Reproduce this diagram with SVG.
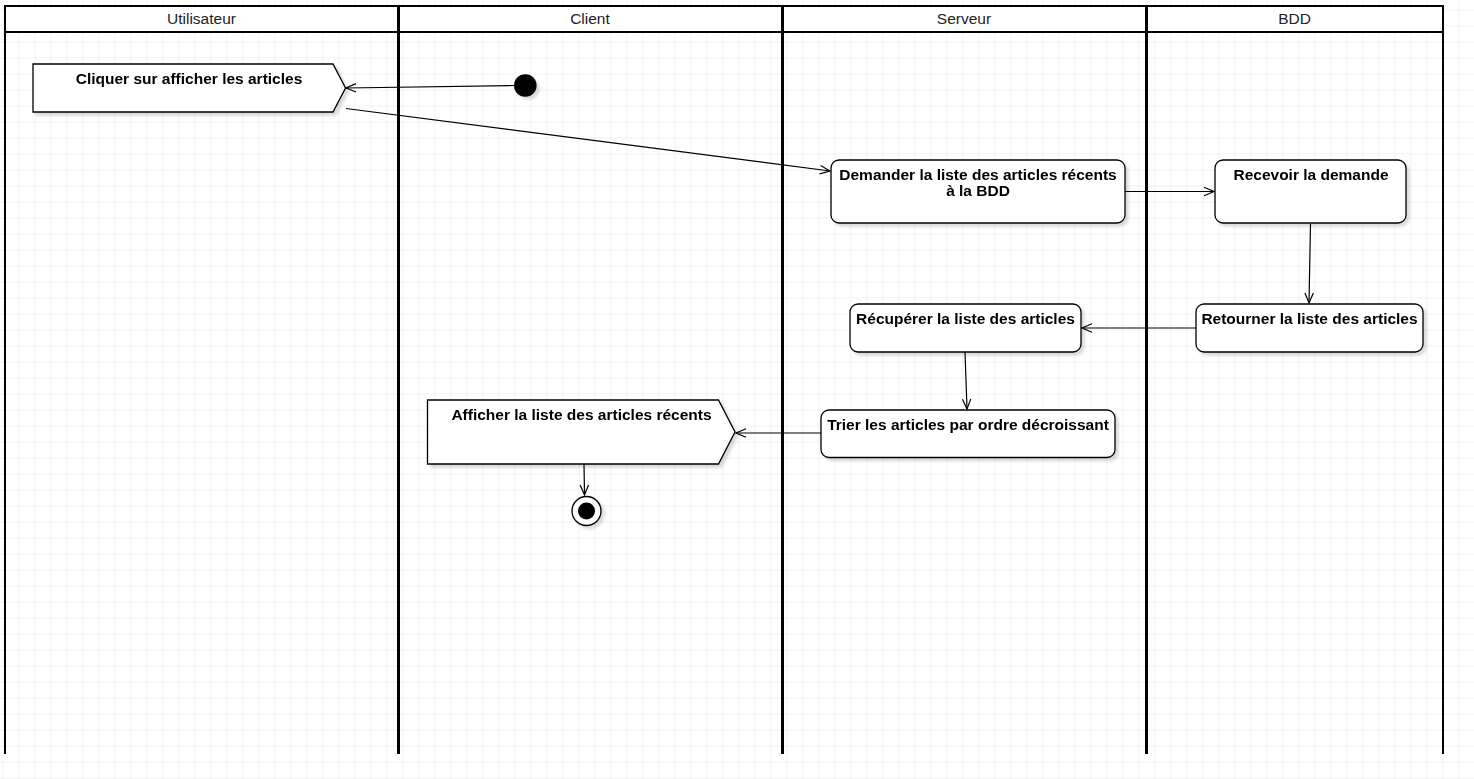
<svg xmlns="http://www.w3.org/2000/svg" width="1474" height="779" viewBox="0 0 1474 779">
  <style>
    .lane { fill: none; stroke: #000; }
    .head { fill: #fff; stroke: none; }
    .htxt { font-family: "Liberation Sans", Arial, sans-serif; font-size: 15.5px; fill: #222; text-anchor: middle; }
    .box { fill: #fff; stroke: #000; stroke-width: 1.3; }
    .lbl { font-family: "Liberation Sans", Arial, sans-serif; font-size: 15.5px; font-weight: bold; fill: #000; text-anchor: middle; }
    .edge { fill: none; stroke: #000; stroke-width: 1.2; marker-end: url(#arr); }
  </style>
  <defs>
    <pattern id="grid" width="16" height="16" patternUnits="userSpaceOnUse" patternTransform="translate(2.5 9.5)">
      <path d="M0,0 H16 M0,0 V16" fill="none" stroke="#e6e6e6" stroke-width="1"/>
    </pattern>
    <marker id="arr" markerWidth="12" markerHeight="12" refX="10" refY="5" orient="auto" markerUnits="userSpaceOnUse" overflow="visible">
      <path d="M0,0.8 L10,5 L0,9.2" fill="none" stroke="#000" stroke-width="1.2"/>
    </marker>
    <filter id="sh" x="-10%" y="-20%" width="130%" height="160%">
      <feGaussianBlur in="SourceAlpha" stdDeviation="1.5"/>
      <feOffset dx="3" dy="3"/>
      <feComponentTransfer><feFuncA type="linear" slope="0.15"/></feComponentTransfer>
      <feMerge><feMergeNode/><feMergeNode in="SourceGraphic"/></feMerge>
    </filter>
  </defs>

  <!-- background and grid -->
  <rect x="0" y="0" width="1474" height="779" fill="#fff"/>
  <rect x="0" y="0" width="1474" height="779" fill="url(#grid)"/>

  <!-- swimlane pool -->
  <g id="pool">
    <rect class="head" x="5" y="6" width="1438" height="26"/>
    <path class="lane" stroke-width="2" d="M5,754 V6 H1443 V754"/>
    <path class="lane" stroke-width="2" d="M5,32 H1443"/>
    <path class="lane" stroke-width="3" d="M398.5,6 V754 M782.5,6 V754 M1146.5,6 V754"/>
    <text class="htxt" x="201.5" y="24">Utilisateur</text>
    <text class="htxt" x="590" y="24">Client</text>
    <text class="htxt" x="964" y="24">Serveur</text>
    <text class="htxt" x="1294.5" y="24">BDD</text>
  </g>

  <!-- connectors -->
  <g id="edges">
    <path class="edge" d="M514,85.5 L346,88"/>
    <path class="edge" d="M346,108.5 L830,171"/>
    <path class="edge" d="M1125,191.5 L1214,191.5"/>
    <path class="edge" d="M1310.5,224 L1309,303"/>
    <path class="edge" d="M1196,328 L1082,328"/>
    <path class="edge" d="M965,352 L967,409"/>
    <path class="edge" d="M821,433 L736,433"/>
    <path class="edge" d="M584,464 L584.5,495"/>
  </g>

  <!-- nodes -->
  <g id="start" filter="url(#sh)">
    <circle cx="525.3" cy="85.5" r="11.3" fill="#000"/>
  </g>

  <g id="cliquer" filter="url(#sh)">
    <path class="box" d="M33,64 H333 L345.5,88 L333,112 H33 Z"/>
    <text class="lbl" x="189" y="84">Cliquer sur afficher les articles</text>
  </g>

  <g id="demander" filter="url(#sh)">
    <rect class="box" x="831" y="160" width="294" height="63" rx="8" ry="8"/>
    <text class="lbl" x="978" y="179.5">Demander la liste des articles récents</text>
    <text class="lbl" x="978" y="195.5">à la BDD</text>
  </g>

  <g id="recevoir" filter="url(#sh)">
    <rect class="box" x="1215" y="160" width="191" height="63" rx="8" ry="8"/>
    <text class="lbl" x="1311" y="179.5">Recevoir la demande</text>
  </g>

  <g id="retourner" filter="url(#sh)">
    <rect class="box" x="1196" y="304" width="227" height="48" rx="8" ry="8"/>
    <text class="lbl" x="1309.5" y="324">Retourner la liste des articles</text>
  </g>

  <g id="recuperer" filter="url(#sh)">
    <rect class="box" x="850" y="304" width="231" height="48" rx="8" ry="8"/>
    <text class="lbl" x="965.5" y="324">Récupérer la liste des articles</text>
  </g>

  <g id="trier" filter="url(#sh)">
    <rect class="box" x="821" y="410" width="294" height="47.5" rx="8" ry="8"/>
    <text class="lbl" x="968" y="429.5">Trier les articles par ordre décroissant</text>
  </g>

  <g id="afficher" filter="url(#sh)">
    <path class="box" d="M427.5,400 H718.5 L735,432 L718.5,464 H427.5 Z"/>
    <text class="lbl" x="581.5" y="419.5">Afficher la liste des articles récents</text>
  </g>

  <g id="end" filter="url(#sh)">
    <circle cx="586.5" cy="511" r="14.5" fill="#fff" stroke="#000" stroke-width="1.3"/>
    <circle cx="586.5" cy="511" r="8.5" fill="#000"/>
  </g>
</svg>
